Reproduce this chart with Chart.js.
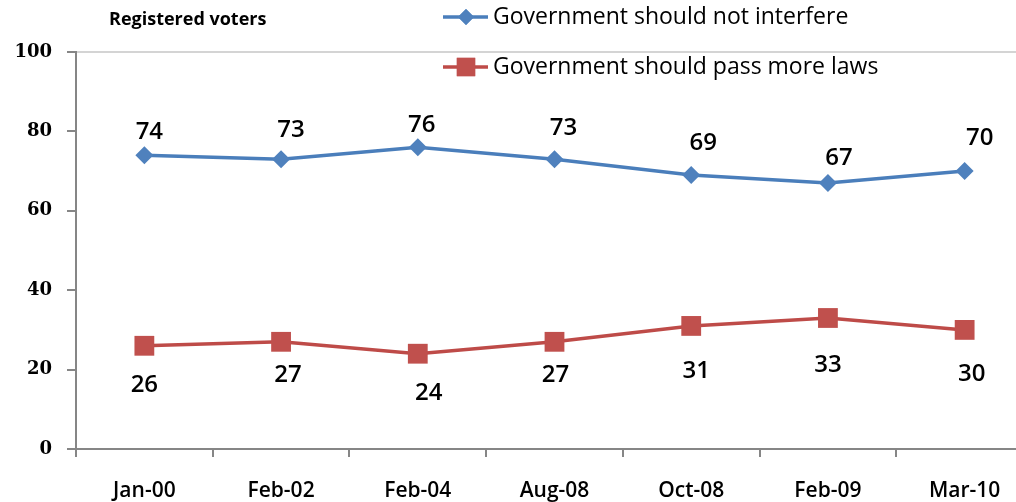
<!DOCTYPE html>
<html>
<head>
<meta charset="utf-8">
<script src="https://cdn.jsdelivr.net/npm/chart.js@4"></script>
<style>
  html, body { margin: 0; padding: 0; background: #fff; overflow: hidden; }
  #wrap { position: relative; width: 1040px; height: 502px; }
</style>
</head>
<body>
<div id="wrap"><canvas id="myChart"></canvas></div>
<script>
// data
const categories = ['Jan-00', 'Feb-02', 'Feb-04', 'Aug-08', 'Oct-08', 'Feb-09', 'Mar-10'];
const notInterfere = [74, 73, 76, 73, 69, 67, 70];
const passLaws = [26, 27, 24, 27, 31, 33, 30];
const yTicks = [0, 20, 40, 60, 80, 100];

// little nudges for the value labels (they were hand placed in the original)
const notLabelDx = [5, 10, 4, 9, 12, 11, 15];
const notLabelDy = [-23, -29, -22, -31, -32, -25, -33];
const lawsLabelDx = [0, 7, 11, 1, 5, 0, 7];
const lawsLabelDy = [39, 33, 39, 33, 45, 47, 44];

const blue = '#4A7EBB';
const red = '#BE4B48';
const axisGrey = '#868686';

// value labels
const valueLabels = {
  id: 'valueLabels',
  afterDatasetsDraw(chart) {
    const ctx = chart.ctx;
    ctx.save();
    ctx.font = '600 24px "Open Sans"';
    ctx.fillStyle = '#000';
    ctx.textAlign = 'center';
    ctx.textBaseline = 'middle';
    chart.data.datasets.forEach((ds, i) => {
      const meta = chart.getDatasetMeta(i);
      meta.data.forEach((pt, j) => {
        ctx.fillText(ds.data[j], pt.x + ds.labelDx[j], pt.y + ds.labelDy[j]);
      });
    });
    ctx.restore();
  }
};

// subtitle + stacked legend top right
const extras = {
  id: 'extras',
  afterDraw(chart) {
    const ctx = chart.ctx;
    ctx.save();
    ctx.fillStyle = '#000';
    ctx.textBaseline = 'middle';
    ctx.textAlign = 'left';
    ctx.font = 'bold 18px "Open Sans"';
    ctx.fillText('Registered voters', 109, 20);

    const rows = [17, 67];
    chart.data.datasets.forEach((ds, i) => {
      const y = rows[i];
      ctx.strokeStyle = ds.borderColor;
      ctx.lineWidth = 3.5;
      ctx.beginPath();
      ctx.moveTo(443, y);
      ctx.lineTo(488, y);
      ctx.stroke();
      ctx.fillStyle = ds.pointBackgroundColor;
      Chart.helpers.drawPoint(ctx, { pointStyle: ds.pointStyle, radius: ds.pointRadius - 1, rotation: 0, borderWidth: 0 }, 466, y);
      ctx.fill();
      ctx.fillStyle = '#000';
      ctx.font = '500 23px "Open Sans"';
      ctx.fillText(ds.label, 493, y);
    });
    ctx.restore();
  }
};

var ctx = document.getElementById('myChart').getContext('2d');
var myChart = new Chart(ctx, {
  type: 'line',
  data: {
    labels: categories,
    datasets: [{
      label: 'Government should not interfere',
      data: notInterfere,
      borderColor: blue,
      backgroundColor: '#4F81BD',
      pointBackgroundColor: '#4F81BD',
      pointBorderColor: '#4F81BD',
      pointStyle: 'rectRot',
      pointRadius: 9,
      pointBorderWidth: 0,
      borderWidth: 3.5,
      tension: 0,
      labelDx: notLabelDx,
      labelDy: notLabelDy
    }, {
      label: 'Government should pass more laws',
      data: passLaws,
      borderColor: red,
      backgroundColor: '#C0504D',
      pointBackgroundColor: '#C0504D',
      pointBorderColor: '#C0504D',
      pointStyle: 'rect',
      pointRadius: 14,
      pointBorderWidth: 0,
      borderWidth: 3.5,
      tension: 0,
      labelDx: lawsLabelDx,
      labelDy: lawsLabelDy
    }]
  },
  options: {
    responsive: true,
    maintainAspectRatio: false,
    animation: false,
    layout: { autoPadding: false, padding: { top: 52, right: 7, bottom: 0, left: 0 } },
    plugins: {
      legend: { display: false },
      tooltip: { enabled: false }
    },
    scales: {
      x: {
        offset: true,
        grid: {
          offset: true,
          drawOnChartArea: false,
          color: axisGrey,
          tickLength: 8,
          lineWidth: 2
        },
        border: { display: true, color: axisGrey, width: 2 },
        ticks: {
          color: '#000',
          font: { family: '"Open Sans"', size: 21, weight: '600' },
          padding: 21,
          maxRotation: 0
        },
        afterFit(s) {
          s.height = 53;
          s.paddingLeft = 0;
          s.paddingRight = 0;
        }
      },
      y: {
        min: 0,
        max: 100,
        afterBuildTicks(s) { s.ticks = yTicks.map(v => ({ value: v })); },
        grid: {
          color: c => (c.tick && c.tick.value === 100) ? '#d4d4d4' : 'rgba(0,0,0,0)',
          tickColor: axisGrey,
          tickLength: 9,
          lineWidth: 2
        },
        border: { display: true, color: axisGrey, width: 2 },
        ticks: {
          color: '#000',
          font: { family: '"DejaVu Serif"', size: 18, weight: 'bold' },
          padding: 15
        },
        afterFit(s) {
          s.width = 76;
          s.paddingTop = 0;
          s.paddingBottom = 0;
        }
      }
    }
  },
  plugins: [valueLabels, extras]
});
</script>
</body>
</html>
